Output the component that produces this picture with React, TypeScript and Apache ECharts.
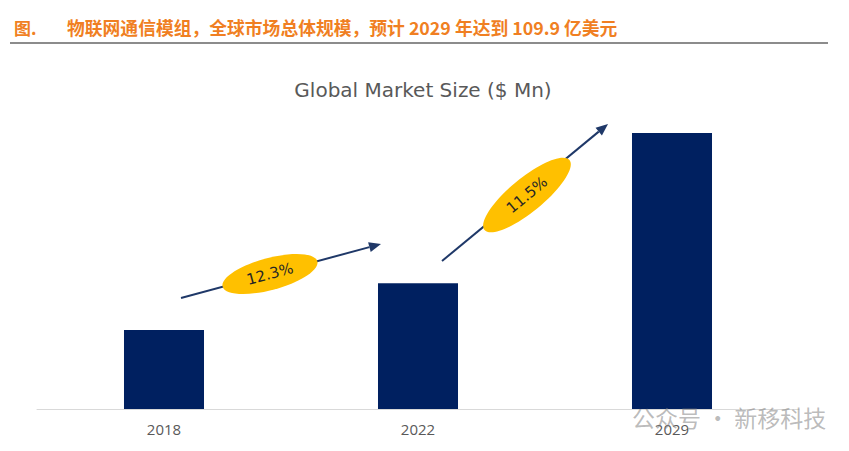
import React, { useEffect, useRef } from "react";
import * as echarts from "echarts";

const categories = ["2018", "2022", "2029"];
const marketSize = [3150, 5010, 10990];
const cagrLabels = ["12.3%", "11.5%"];
const figureLabel = "图.";
const figureTitle = "物联网通信模组，全球市场总体规模，预计 2029 年达到 109.9 亿美元";
const chartTitle = "Global Market Size ($ Mn)";
const watermark = "公众号 · 新移科技";

const NAVY = "#002060";
const ARROW = "#1F3868";
const GOLD = "#FFC000";

function arrow(x1: number, y1: number, x2: number, y2: number) {
  const ang = Math.atan2(y2 - y1, x2 - x1);
  const L = 12, W = 5;
  const bx = x2 - L * Math.cos(ang), by = y2 - L * Math.sin(ang);
  const px = -Math.sin(ang) * W, py = Math.cos(ang) * W;
  return [
    {
      type: "line",
      shape: { x1, y1, x2: bx, y2: by },
      style: { stroke: ARROW, lineWidth: 2 },
      z: 10,
    },
    {
      type: "polygon",
      shape: { points: [[x2, y2], [bx + px, by + py], [bx - px, by - py]] },
      style: { fill: ARROW },
      z: 10,
    },
  ];
}

function badge(cx: number, cy: number, rx: number, ry: number, deg: number, label: string) {
  return {
    type: "group",
    x: cx,
    y: cy,
    rotation: (deg * Math.PI) / 180,
    z: 20,
    children: [
      { type: "ellipse", shape: { cx: 0, cy: 0, rx, ry }, style: { fill: GOLD }, z: 20 },
      {
        type: "text",
        x: 0,
        y: 0,
        style: {
          text: label,
          fill: "#262626",
          font: "15px 'DejaVu Sans'",
          align: "center",
          verticalAlign: "middle",
        },
        z: 21,
      },
    ],
  };
}

export default function App() {
  const ref = useRef<HTMLDivElement>(null);
  useEffect(() => {
    document.body.style.margin = "0";
    const chart = echarts.init(ref.current!, null, { renderer: "svg" });
    chart.setOption({
      animation: false,
      backgroundColor: "#ffffff",
      grid: { left: 37, right: 50, top: 107.6, bottom: 42, containLabel: false },
      xAxis: {
        type: "category",
        data: categories,
        axisLine: { show: true, lineStyle: { color: "#D9D9D9", width: 1 } },
        axisTick: { show: false },
        axisLabel: { color: "#595959", fontSize: 15, margin: 12, fontFamily: "'Open Sans', sans-serif" },
      },
      yAxis: {
        type: "value",
        min: 0,
        max: 12000,
        show: false,
        splitLine: { show: false },
      },
      series: [
        {
          type: "bar",
          data: marketSize,
          barWidth: "31.5%",
          itemStyle: { color: NAVY },
          label: { show: false },
        },
      ],
      graphic: [
        {
          type: "text",
          x: 14,
          y: 27,
          style: {
            text: figureLabel,
            fill: "#F07F22",
            font: "bold 17px 'Noto Sans CJK SC', sans-serif",
            verticalAlign: "middle",
          },
        },
        {
          type: "text",
          x: 67,
          y: 27,
          style: {
            text: figureTitle,
            fill: "#F07F22",
            font: "bold 17.8px 'Noto Sans CJK SC', sans-serif",
            verticalAlign: "middle",
          },
        },
        {
          type: "line",
          shape: { x1: 10, y1: 43, x2: 828, y2: 43 },
          style: { stroke: "#8C8C8C", lineWidth: 2 },
        },
        {
          type: "text",
          x: 423,
          y: 90,
          style: {
            text: chartTitle,
            fill: "#595959",
            font: "20px 'DejaVu Sans'",
            align: "center",
            verticalAlign: "middle",
          },
        },
        ...arrow(181, 298, 381, 244),
        ...arrow(442, 261, 608, 124),
        badge(270, 274, 49, 16, 15, cagrLabels[0]),
        badge(527, 195, 55, 17, 39.5, cagrLabels[1]),
        {
          type: "text",
          x: 632,
          y: 417,
          style: {
            text: watermark,
            fill: "rgba(130,130,130,0.55)",
            font: "23px 'Noto Sans CJK SC', sans-serif",
            verticalAlign: "middle",
          },
          z: 30,
        },
      ],
    });
    return () => chart.dispose();
  }, []);
  return <div ref={ref} style={{ width: 849, height: 451 }} />;
}
